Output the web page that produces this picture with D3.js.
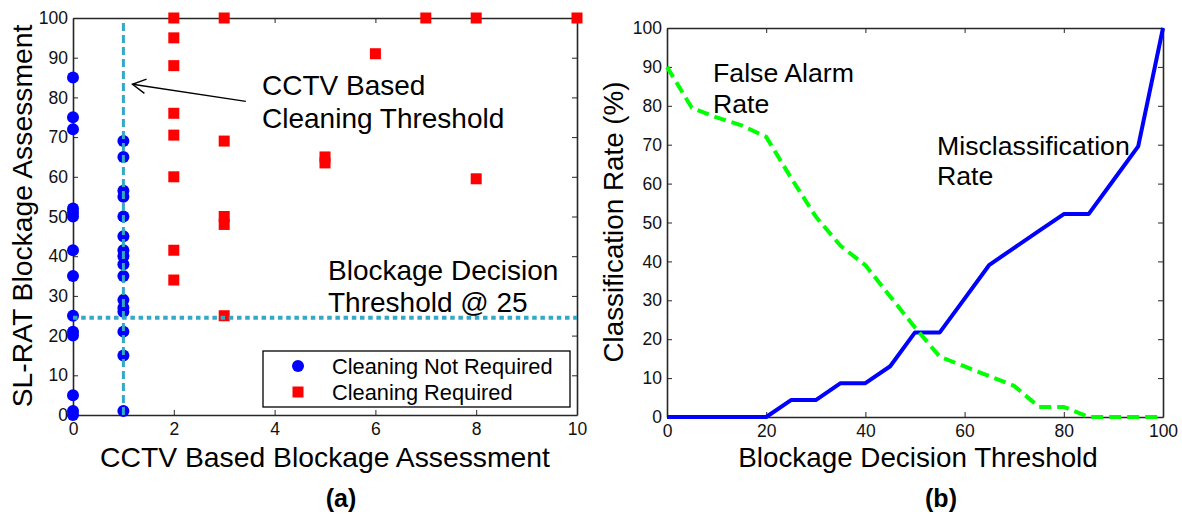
<!DOCTYPE html>
<html>
<head>
<meta charset="utf-8">
<script src="https://cdn.jsdelivr.net/npm/d3@7"></script>
<style>
  html, body { margin: 0; padding: 0; background: #fff; }
  svg { display: block; font-family: "Liberation Sans", Arial, sans-serif; }
</style>
</head>
<body>
<svg id="chart" width="1182" height="514"></svg>
<script>
// ---- Panel (a): CCTV vs SL-RAT blockage assessment ----
const notRequiredX = [0, 0, 0, 0, 0, 0, 0, 0, 0, 0, 0, 0, 0, 0,
                      1, 1, 1, 1, 1, 1, 1, 1, 1, 1, 1, 1, 1, 1, 1, 1];
const notRequiredY = [85, 75, 72, 52, 51, 50, 41.5, 35, 25, 21, 20, 5, 1, 0,
                      69, 65, 56.5, 55, 50, 45, 41.5, 40, 38, 35, 29, 27, 26, 21, 15, 1];
const requiredX = [2, 2, 2, 2, 2, 2, 2, 2, 3, 3, 3, 3, 3, 5, 5, 6, 7, 8, 8, 10];
const requiredY = [100, 95, 88, 76, 70.5, 60, 41.5, 34, 100, 69, 50, 48, 25, 65, 63.5, 91, 100, 100, 59.5, 100];
const cleaningThreshold = 1;
const decisionThreshold = 24.5;
const xTicksA = [0, 2, 4, 6, 8, 10];
const yTicksA = [0, 10, 20, 30, 40, 50, 60, 70, 80, 90, 100];
const legendLabels = ["Cleaning Not Required", "Cleaning Required"];

// ---- Panel (b): classification rates vs decision threshold ----
const thresholds = [0, 5, 10, 15, 20, 25, 30, 35, 40, 45, 50, 55, 60, 65, 70, 75, 80, 85, 90, 95, 100];
const falseAlarm = [90, 79.5, 77, 75, 72, 61.5, 51.5, 44, 39, 31, 23, 15.5, 13, 10.5, 8, 2.6, 2.6, 0, 0, 0, 0];
const misclass = [0, 0, 0, 0, 0, 4.35, 4.35, 8.7, 8.7, 13.04, 21.74, 21.74, 30.43, 39.13, 43.48, 47.83, 52.17, 52.17, 60.87, 69.57, 100];
const xTicksB = [0, 20, 40, 60, 80, 100];
const yTicksB = [0, 10, 20, 30, 40, 50, 60, 70, 80, 90, 100];

const svg = d3.select("#chart");
const axisColor = "#262626";
const cyan = "#35a8c6";
const tickFont = 17.5;
const labelFont = 28.3;
const noteFont = 28;

function styleAxis(g, showLabels) {
  g.select(".domain").attr("stroke", axisColor).attr("stroke-width", 1.6);
  g.selectAll(".tick line").attr("stroke", axisColor).attr("stroke-width", 1);
  g.selectAll(".tick text")
    .attr("fill", "#111")
    .style("font-size", tickFont + "px")
    .style("font-family", "'Liberation Sans', Arial, sans-serif")
    .style("display", showLabels ? null : "none");
}

// Draws a boxed MATLAB-style frame with inward ticks on all four sides
function drawFrame(g, x, y, xTicks, yTicks) {
  const [x0, x1] = x.range();
  const [y0, y1] = y.range();
  g.append("g").attr("transform", `translate(0,${y0})`)
    .call(d3.axisBottom(x).tickValues(xTicks).tickSize(-5).tickPadding(8).tickSizeOuter(0))
    .call(a => styleAxis(a, true));
  g.append("g").attr("transform", `translate(0,${y1})`)
    .call(d3.axisTop(x).tickValues(xTicks).tickSize(-5).tickSizeOuter(0))
    .call(a => styleAxis(a, false));
  g.append("g").attr("transform", `translate(${x0},0)`)
    .call(d3.axisLeft(y).tickValues(yTicks).tickSize(-5).tickPadding(5).tickSizeOuter(0))
    .call(a => styleAxis(a, true));
  g.append("g").attr("transform", `translate(${x1},0)`)
    .call(d3.axisRight(y).tickValues(yTicks).tickSize(-5).tickSizeOuter(0))
    .call(a => styleAxis(a, false));
}

// ================= Panel (a) =================
const xA = d3.scaleLinear().domain([0, 10]).range([73, 577]);
const yA = d3.scaleLinear().domain([0, 100]).range([415, 18]);
const gA = svg.append("g");

drawFrame(gA, xA, yA, xTicksA, yTicksA);

// markers
const notRequired = notRequiredX.map((v, i) => ({ x: v, y: notRequiredY[i] }));
const required = requiredX.map((v, i) => ({ x: v, y: requiredY[i] }));

gA.append("g").selectAll("circle").data(notRequired).join("circle")
  .attr("cx", d => xA(d.x)).attr("cy", d => yA(d.y)).attr("r", 6)
  .attr("fill", "#0000ff");

const sq = 11;
gA.append("g").selectAll("rect").data(required).join("rect")
  .attr("x", d => xA(d.x) - sq / 2).attr("y", d => yA(d.y) - sq / 2)
  .attr("width", sq).attr("height", sq)
  .attr("fill", "#ff0000");

// threshold lines
gA.append("line")
  .attr("x1", xA(cleaningThreshold)).attr("x2", xA(cleaningThreshold))
  .attr("y1", yA(0)).attr("y2", yA(99.5))
  .attr("stroke", cyan).attr("stroke-width", 3).attr("stroke-dasharray", "8,4");
gA.append("line")
  .attr("x1", xA(0)).attr("x2", xA(10))
  .attr("y1", yA(decisionThreshold)).attr("y2", yA(decisionThreshold))
  .attr("stroke", cyan).attr("stroke-width", 4).attr("stroke-dasharray", "4.5,3.7");

// annotation: cleaning threshold with arrow
const tip = [xA(1.18), yA(83.3)];
const tail = [xA(3.43), yA(79)];
gA.append("line")
  .attr("x1", tail[0]).attr("y1", tail[1]).attr("x2", tip[0]).attr("y2", tip[1])
  .attr("stroke", "#000").attr("stroke-width", 1.4);
{
  const ang = Math.atan2(tail[1] - tip[1], tail[0] - tip[0]);
  const len = 15, spread = 0.5;
  const p1 = [tip[0] + len * Math.cos(ang - spread), tip[1] + len * Math.sin(ang - spread)];
  const p2 = [tip[0] + len * Math.cos(ang + spread), tip[1] + len * Math.sin(ang + spread)];
  gA.append("path")
    .attr("d", `M${p1[0]},${p1[1]}L${tip[0]},${tip[1]}L${p2[0]},${p2[1]}`)
    .attr("fill", "none").attr("stroke", "#000").attr("stroke-width", 1.4);
}
const annA = gA.append("text").attr("fill", "#000").style("font-size", noteFont + "px");
annA.append("tspan").attr("x", 262).attr("y", 95).text("CCTV Based");
annA.append("tspan").attr("x", 262).attr("y", 128).text("Cleaning Threshold");

const annA2 = gA.append("text").attr("fill", "#000").style("font-size", noteFont + "px");
annA2.append("tspan").attr("x", 328).attr("y", 280).text("Blockage Decision");
annA2.append("tspan").attr("x", 328).attr("y", 312).text("Threshold @ 25");

// legend
const lg = gA.append("g");
lg.append("rect").attr("x", 263).attr("y", 351).attr("width", 307).attr("height", 56)
  .attr("fill", "#fff").attr("stroke", "#000").attr("stroke-width", 1.3);
lg.append("circle").attr("cx", 298).attr("cy", 366).attr("r", 6).attr("fill", "#0000ff");
lg.append("rect").attr("x", 298 - sq / 2).attr("y", 392 - sq / 2).attr("width", sq).attr("height", sq).attr("fill", "#ff0000");
lg.selectAll("text.lbl").data(legendLabels).join("text")
  .attr("class", "lbl")
  .attr("x", 332).attr("y", (d, i) => 374 + i * 25.5)
  .style("font-size", "21.8px").attr("fill", "#000").text(d => d);

// axis titles
gA.append("text").attr("x", 325).attr("y", 467).attr("text-anchor", "middle")
  .style("font-size", labelFont + "px").text("CCTV Based Blockage Assessment");
gA.append("text").attr("transform", "translate(32,216) rotate(-90)").attr("text-anchor", "middle")
  .style("font-size", labelFont + "px").text("SL-RAT Blockage Assessment");
gA.append("text").attr("x", 341).attr("y", 507).attr("text-anchor", "middle")
  .style("font-size", "25px").style("font-weight", "bold").text("(a)");

// ================= Panel (b) =================
const xB = d3.scaleLinear().domain([0, 100]).range([667, 1163]);
const yB = d3.scaleLinear().domain([0, 100]).range([417, 28]);
const gB = svg.append("g");

drawFrame(gB, xB, yB, xTicksB, yTicksB);

const lineB = d3.line().x((d, i) => xB(thresholds[i])).y(d => yB(d));

gB.append("path").datum(misclass).attr("d", lineB)
  .attr("fill", "none").attr("stroke", "#0000ff").attr("stroke-width", 4)
  .attr("stroke-linejoin", "round");
gB.append("path").datum(falseAlarm).attr("d", lineB)
  .attr("fill", "none").attr("stroke", "#00ff00").attr("stroke-width", 4)
  .attr("stroke-dasharray", "12,6");

const annB1 = gB.append("text").attr("fill", "#000").style("font-size", "26.7px");
annB1.append("tspan").attr("x", 713).attr("y", 82).text("False Alarm");
annB1.append("tspan").attr("x", 713).attr("y", 113).text("Rate");
const annB2 = gB.append("text").attr("fill", "#000").style("font-size", "26.7px");
annB2.append("tspan").attr("x", 937).attr("y", 155).text("Misclassification");
annB2.append("tspan").attr("x", 937).attr("y", 185).text("Rate");

gB.append("text").attr("x", 918).attr("y", 467).attr("text-anchor", "middle")
  .style("font-size", "27.8px").text("Blockage Decision Threshold");
gB.append("text").attr("transform", "translate(623,222) rotate(-90)").attr("text-anchor", "middle")
  .style("font-size", "27.8px").text("Classification Rate (%)");
gB.append("text").attr("x", 941).attr("y", 507).attr("text-anchor", "middle")
  .style("font-size", "25px").style("font-weight", "bold").text("(b)");
</script>
</body>
</html>
